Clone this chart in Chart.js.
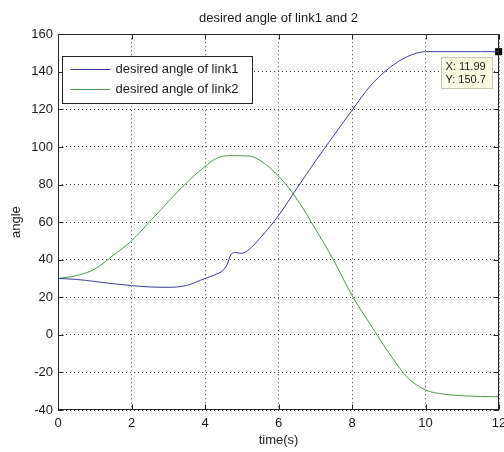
<!DOCTYPE html>
<html>
<head>
<meta charset="utf-8">
<title>desired angle of link1 and 2</title>
<script src="https://cdn.jsdelivr.net/npm/chart.js@4/dist/chart.umd.min.js"></script>
<style>
    body { margin: 0; background: #fff; }
</style>
</head>
<body>
<canvas id="angleChart" width="504" height="452"></canvas>
<script>
// sample times (s) and desired joint angles
const time  = [0, 0.5, 1, 1.5, 2, 2.5, 3, 3.5, 4, 4.25, 4.5, 4.6, 4.7, 4.8, 5, 5.2, 5.5, 6, 6.5, 7, 7.5, 8, 8.5, 9, 9.5, 10, 10.5, 11, 11.5, 12];
const link1 = [30, 29.5, 28.4, 27.2, 26.2, 25.5, 25.3, 26.3, 30, 31.8, 34.5, 37.5, 42.5, 43.8, 43.4, 45.5, 51.5, 63.5, 78, 92.3, 106, 119.5, 132.5, 141.8, 148, 150.7, 150.7, 150.7, 150.7, 150.7];
const link2 = [30, 31.5, 35, 42.3, 50, 60.3, 70.8, 81, 89.6, 93.3, 95.1, 95.3, 95.4, 95.4, 95.3, 95.2, 92.8, 84.5, 72.3, 56.5, 39.7, 21, 5.5, -9.5, -22.5, -29.3, -31.6, -32.4, -32.8, -33];

const seriesNames = ["desired angle of link1", "desired angle of link2"];
const xTicks = [0, 2, 4, 6, 8, 10, 12];
const yTicks = [-40, -20, 0, 20, 40, 60, 80, 100, 120, 140, 160];

// data cursor
const tipX = [11.99];
const tipY = [150.7];

const BLUE = "#3b3b9e";
const GREEN = "#4a9a4a";
const FONT = "'Liberation Sans', Arial, sans-serif";

Chart.defaults.font.family = FONT;
Chart.defaults.font.size = 13;
Chart.defaults.color = "#1a1a1a";

function toPoints(xs, ys) {
    return xs.map((t, i) => ({ x: t, y: ys[i] }));
}

// box, inner tick marks, legend and data tip drawn on top
const matlabFrame = {
    id: "matlabFrame",
    afterDraw(chart) {
        const { ctx, chartArea: a, scales: { x, y } } = chart;
        const L = Math.round(a.left) + 0.5, R = Math.round(a.right) - 0.5;
        const T = Math.round(a.top) + 0.5, B = Math.round(a.bottom) - 0.5;
        ctx.save();
        ctx.strokeStyle = "#262626";
        ctx.lineWidth = 1;
        ctx.beginPath();
        xTicks.forEach(v => {
            const px = Math.round(x.getPixelForValue(v)) + 0.5;
            ctx.moveTo(px, B); ctx.lineTo(px, B - 5);
            ctx.moveTo(px, T); ctx.lineTo(px, T + 5);
        });
        yTicks.forEach(v => {
            const py = Math.round(y.getPixelForValue(v)) + 0.5;
            ctx.moveTo(L, py); ctx.lineTo(L + 5, py);
            ctx.moveTo(R, py); ctx.lineTo(R - 5, py);
        });
        ctx.stroke();
        ctx.strokeRect(L, T, R - L, B - T);

        // legend
        const lx = L + 4, ly = T + 22, lw = 190, lh = 47;
        ctx.fillStyle = "#fff";
        ctx.fillRect(lx, ly, lw, lh);
        ctx.strokeStyle = "#262626";
        ctx.strokeRect(lx, ly, lw, lh);
        ctx.font = "13px " + FONT;
        ctx.textBaseline = "middle";
        ctx.textAlign = "left";
        [BLUE, GREEN].forEach((c, i) => {
            const ry = ly + 13 + i * 20;
            ctx.strokeStyle = c;
            ctx.beginPath();
            ctx.moveTo(lx + 8, ry); ctx.lineTo(lx + 48, ry);
            ctx.stroke();
            ctx.fillStyle = "#1a1a1a";
            ctx.fillText(seriesNames[i], lx + 53, ry);
        });

        // data tip box
        const px = x.getPixelForValue(tipX[0]);
        const py = y.getPixelForValue(tipY[0]);
        const bx = Math.round(px - 58) + 0.5, by = Math.round(py + 5) + 0.5;
        ctx.fillStyle = "#fbfbe2";
        ctx.fillRect(bx, by, 51, 31);
        ctx.strokeStyle = "#c8c8b0";
        ctx.strokeRect(bx, by, 51, 31);
        ctx.fillStyle = "#1a1a1a";
        ctx.font = "11px " + FONT;
        ctx.fillText("X: " + tipX[0], bx + 4, by + 9);
        ctx.fillText("Y: " + tipY[0], bx + 4, by + 22);
        ctx.restore();
    }
};

new Chart(document.getElementById("angleChart"), {
    type: "line",
    data: {
        datasets: [
            {
                label: seriesNames[0],
                data: toPoints(time, link1),
                borderColor: BLUE,
                borderWidth: 1,
                pointRadius: 0,
                cubicInterpolationMode: "monotone",
                fill: false
            },
            {
                label: seriesNames[1],
                data: toPoints(time, link2),
                borderColor: GREEN,
                borderWidth: 1,
                pointRadius: 0,
                cubicInterpolationMode: "monotone",
                fill: false
            },
            {
                label: "cursor",
                data: toPoints(tipX, tipY),
                showLine: false,
                pointStyle: "rect",
                pointRadius: 5,
                backgroundColor: "#000",
                borderColor: "#000",
                borderWidth: 0,
                clip: false
            }
        ]
    },
    options: {
        responsive: false,
        animation: false,
        events: [],
        layout: { padding: { left: 0, right: 4, top: 0, bottom: 0 } },
        plugins: {
            legend: { display: false },
            tooltip: { enabled: false },
            title: {
                display: true,
                text: "desired angle of link1 and 2",
                fullSize: false,
                color: "#1a1a1a",
                font: { size: 13, weight: "normal" },
                padding: { top: 11, bottom: 7.6 }
            }
        },
        scales: {
            x: {
                type: "linear",
                min: 0,
                max: 12,
                afterBuildTicks: s => { s.ticks = xTicks.map(v => ({ value: v })); },
                afterFit: s => { s.height = 42; s.paddingLeft = 0; s.paddingRight = 0; },
                ticks: { padding: 6, maxRotation: 0, autoSkip: false },
                grid: { color: "#444", lineWidth: 1, drawTicks: false },
                border: { display: false, dash: [1, 3] },
                title: { display: true, text: "time(s)", font: { size: 13 }, padding: { top: 0, bottom: 4 } }
            },
            y: {
                min: -40,
                max: 160,
                afterBuildTicks: s => { s.ticks = yTicks.map(v => ({ value: v })); },
                afterFit: s => { s.width = 58; s.paddingTop = 0; s.paddingBottom = 0; },
                ticks: { padding: 5, autoSkip: false },
                grid: { color: "#444", lineWidth: 1, drawTicks: false },
                border: { display: false, dash: [1, 3] },
                title: { display: true, text: "angle", font: { size: 13 }, padding: { top: 9, bottom: 0 } }
            }
        }
    },
    plugins: [matlabFrame]
});
</script>
</body>
</html>
